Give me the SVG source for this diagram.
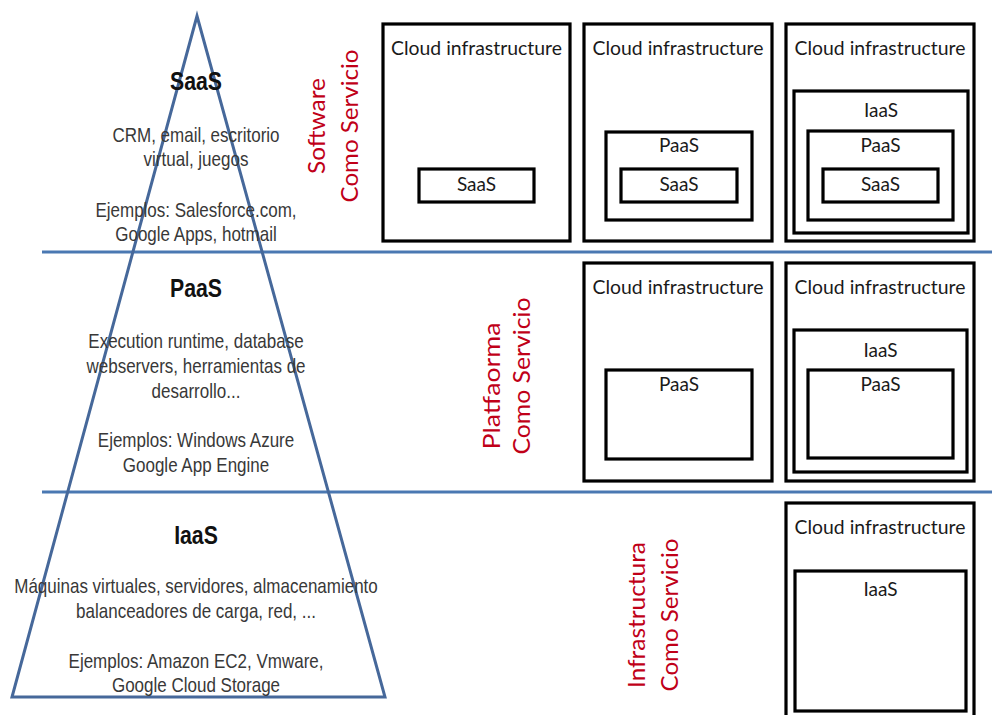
<svg xmlns="http://www.w3.org/2000/svg" width="992" height="715" viewBox="0 0 992 715">
<style>
.bx{fill:none;stroke:#000;stroke-width:3.2}
.lb{font-family:Lato,"Open Sans",sans-serif;font-size:19px;fill:#1a1a1a;text-anchor:middle}
.rd{font-family:Lato,"Open Sans",sans-serif;font-size:24px;fill:#c00018;text-anchor:middle}
.tx{font-family:"Liberation Sans",Arial,sans-serif;font-size:20px;fill:#383838;text-anchor:middle}
.hd{font-family:"Liberation Sans",Arial,sans-serif;font-size:25px;font-weight:bold;fill:#111;text-anchor:middle}
.sep{stroke:#4a78b2;stroke-width:3}
</style>
<rect width="992" height="715" fill="#fff"/>
<g id="connectors">
<line class="sep" x1="42" y1="252" x2="992" y2="252"/>
<line class="sep" x1="42" y1="492" x2="992" y2="492"/>
</g>
<g id="pyramid">
<polygon points="197,16 12,697 385,697" fill="none" stroke="#46689a" stroke-width="3" stroke-linejoin="miter"/>
</g>
<g id="pyramid-text" transform="translate(196,0) scale(0.85,1)">
<text class="hd" x="0" y="90">SaaS</text>
<text class="tx" x="0" y="142">CRM, email, escritorio</text>
<text class="tx" x="0" y="166">virtual, juegos</text>
<text class="tx" x="0" y="217">Ejemplos: Salesforce.com,</text>
<text class="tx" x="0" y="241">Google Apps, hotmail</text>
<text class="hd" x="0" y="297">PaaS</text>
<text class="tx" x="0" y="348">Execution runtime, database</text>
<text class="tx" x="0" y="373">webservers, herramientas de</text>
<text class="tx" x="0" y="398">desarrollo...</text>
<text class="tx" x="0" y="447">Ejemplos: Windows Azure</text>
<text class="tx" x="0" y="472">Google App Engine</text>
<text class="hd" x="0" y="544">IaaS</text>
<text class="tx" x="0" y="593">Máquinas virtuales, servidores, almacenamiento</text>
<text class="tx" x="0" y="618">balanceadores de carga, red, ...</text>
<text class="tx" x="0" y="668">Ejemplos: Amazon EC2, Vmware,</text>
<text class="tx" x="0" y="692">Google Cloud Storage</text>
</g>
<g id="label-saas">
<text class="rd" transform="translate(325,126) rotate(-90)" textLength="96" lengthAdjust="spacingAndGlyphs">Software</text>
<text class="rd" transform="translate(358,126) rotate(-90)" textLength="153" lengthAdjust="spacingAndGlyphs">Como Servicio</text>
</g>
<g id="label-paas">
<text class="rd" transform="translate(500,386) rotate(-90)" textLength="127" lengthAdjust="spacingAndGlyphs">Platfaorma</text>
<text class="rd" transform="translate(530,376) rotate(-90)" textLength="157" lengthAdjust="spacingAndGlyphs">Como  Servicio</text>
</g>
<g id="label-iaas">
<text class="rd" transform="translate(645,615) rotate(-90)" textLength="146" lengthAdjust="spacingAndGlyphs">Infrastructura</text>
<text class="rd" transform="translate(678,615) rotate(-90)" textLength="153" lengthAdjust="spacingAndGlyphs">Como Servicio</text>
</g>
<g id="saas-1">
<rect class="bx" x="383" y="24" width="187" height="217"/>
<text class="lb" x="476.5" y="55" textLength="171" lengthAdjust="spacingAndGlyphs">Cloud infrastructure</text>
<rect class="bx" x="419" y="169" width="115" height="33"/>
<text class="lb" x="476.5" y="191">SaaS</text>
</g>
<g id="saas-2">
<rect class="bx" x="584" y="24" width="188" height="217"/>
<text class="lb" x="678" y="55" textLength="171" lengthAdjust="spacingAndGlyphs">Cloud infrastructure</text>
<rect class="bx" x="606" y="132" width="146" height="88"/>
<text class="lb" x="679" y="152">PaaS</text>
<rect class="bx" x="621" y="169" width="116" height="33"/>
<text class="lb" x="679" y="191">SaaS</text>
</g>
<g id="saas-3">
<rect class="bx" x="786" y="24" width="188" height="217"/>
<text class="lb" x="880" y="55" textLength="171" lengthAdjust="spacingAndGlyphs">Cloud infrastructure</text>
<rect class="bx" x="794" y="91" width="174" height="142"/>
<text class="lb" x="881" y="117">IaaS</text>
<rect class="bx" x="808" y="131" width="145" height="89"/>
<text class="lb" x="880.5" y="152">PaaS</text>
<rect class="bx" x="823" y="169" width="115" height="33"/>
<text class="lb" x="880.5" y="191">SaaS</text>
</g>
<g id="paas-2">
<rect class="bx" x="584" y="263" width="188" height="218"/>
<text class="lb" x="678" y="294" textLength="171" lengthAdjust="spacingAndGlyphs">Cloud infrastructure</text>
<rect class="bx" x="606" y="370" width="146" height="89"/>
<text class="lb" x="679" y="391">PaaS</text>
</g>
<g id="paas-3">
<rect class="bx" x="786" y="263" width="188" height="218"/>
<text class="lb" x="880" y="294" textLength="171" lengthAdjust="spacingAndGlyphs">Cloud infrastructure</text>
<rect class="bx" x="794" y="330" width="173" height="142"/>
<text class="lb" x="880.5" y="357">IaaS</text>
<rect class="bx" x="808" y="370" width="145" height="88"/>
<text class="lb" x="880.5" y="391">PaaS</text>
</g>
<g id="iaas-3">
<rect class="bx" x="786" y="503" width="188" height="220"/>
<text class="lb" x="880" y="534" textLength="171" lengthAdjust="spacingAndGlyphs">Cloud infrastructure</text>
<rect class="bx" x="795" y="571" width="171" height="140"/>
<text class="lb" x="880.5" y="596">IaaS</text>
</g>
</svg>
